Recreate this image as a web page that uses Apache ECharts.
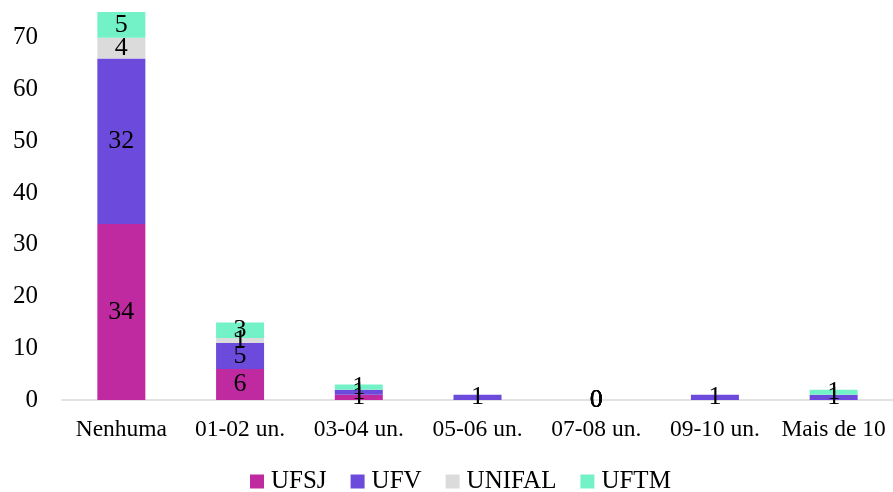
<!DOCTYPE html>
<html><head><meta charset="utf-8">
<script src="https://cdn.jsdelivr.net/npm/echarts@6/dist/echarts.min.js"></script>
<style>html,body{margin:0;padding:0;background:#fff}#c{width:893px;height:492px}</style>
</head><body><div id="c"></div>
<script>
const categories = ['Nenhuma','01-02 un.','03-04 un.','05-06 un.','07-08 un.','09-10 un.','Mais de 10'];
const ufsj   = [34, 6, 1, null, 0, null, null];
const ufv    = [32, 5, 1, 1, 0, 1, 1];
const unifal = [4, 1, null, null, 0, null, null];
const uftm   = [5, 3, 1, null, 0, null, 1];
const yTicks = [0,10,20,30,40,50,60,70];

const font = 'Liberation Serif, Times New Roman, serif';
function s(name, data, color){
  return {name, type:'bar', stack:'t', data, barWidth:48,
    itemStyle:{color},
    label:{show:true, position:'inside', color:'#000', fontFamily:font, fontSize:26,
      formatter:p=>p.value==null?'':String(p.value)}};
}
const chart = echarts.init(document.getElementById('c'));
chart.setOption({
  animation:false,
  grid:{left:62,right:0,top:12,bottom:92},
  legend:{top:464,left:245,itemWidth:14,itemHeight:14,itemGap:24,icon:'rect',
    textStyle:{fontFamily:font,fontSize:25,color:'#000',padding:[0,0,0,2]}},
  xAxis:{type:'category',data:categories,
    axisLine:{lineStyle:{color:'#d9d9d9',width:1.5}},axisTick:{show:false},
    axisLabel:{color:'#000',fontFamily:font,fontSize:23.5,margin:18,interval:0}},
  yAxis:{type:'value',min:0,max:75,interval:10,
    splitLine:{show:false},axisLine:{show:false},axisTick:{show:false},
    axisLabel:{color:'#000',fontFamily:font,fontSize:25,margin:24,showMaxLabel:false,
      formatter:v=>yTicks.includes(v)?String(v):''}},
  series:[s('UFSJ',ufsj,'#C02AA0'),s('UFV',ufv,'#6C4ADB'),s('UNIFAL',unifal,'#DBDBDB'),s('UFTM',uftm,'#74F2C7')]
});
</script></body></html>
